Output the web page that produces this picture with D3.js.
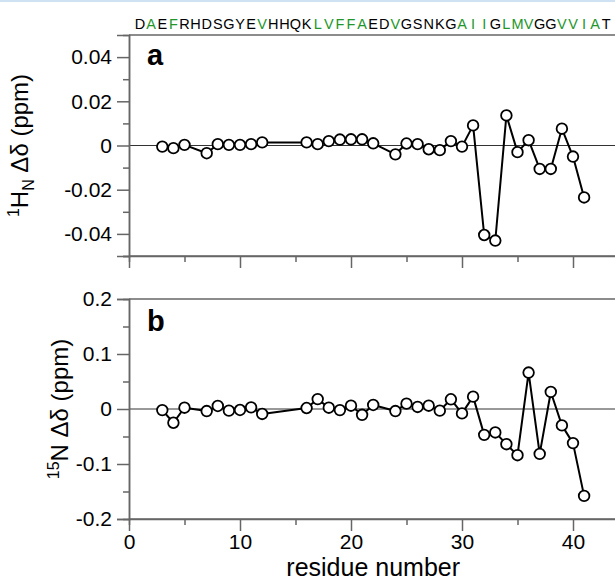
<!DOCTYPE html>
<html>
<head>
<meta charset="utf-8">
<script src="https://cdn.jsdelivr.net/npm/d3@7"></script>
<style>
  html, body { margin: 0; padding: 0; background: #fff; }
  svg { display: block; font-family: "Liberation Sans", Arial, Helvetica, sans-serif; }
</style>
</head>
<body>
<svg id="chart" width="615" height="580"></svg>
<script>
// residue numbers that have a measurement
const residues = [3, 4, 5, 7, 8, 9, 10, 11, 12, 16, 17, 18, 19, 20, 21, 22, 24, 25, 26, 27, 28, 29, 30,
    31, 32, 33, 34, 35, 36, 37, 38, 39, 40, 41];
// 1H_N chemical shift difference (ppm)
const dH = [-0.0005, -0.0012, 0.0003, -0.0035, 0.0006, 0.0003, 0.0003, 0.0006, 0.0014,
    0.0014, 0.0006, 0.002, 0.0027, 0.0028, 0.0028, 0.001,
    -0.004, 0.0009, 0.0006, -0.0017, -0.0021, 0.002, -0.0005,
    0.0091, -0.0405, -0.043, 0.0136, -0.003, 0.0024, -0.0106, -0.0106, 0.0076, -0.005, -0.0235];
// 15N chemical shift difference (ppm)
const dN = [-0.002, -0.025, 0.0024, -0.0037, 0.0055, -0.003, -0.0018, 0.003, -0.009,
    0.0018, 0.018, 0.0024, -0.002, 0.006, -0.0105, 0.0073,
    -0.0037, 0.0097, 0.0037, 0.006, -0.003, 0.0177, -0.008,
    0.0225, -0.047, -0.0426, -0.064, -0.084, 0.0663, -0.0816, 0.031, -0.0298, -0.062, -0.158];

const sequence = "DAEFRHDSGYEVHHQKLVFFAEDVGSNKGAIIGLMVGGVVIAT".split("");
// positions (1-based) printed in green
const hydrophobic = [2, 4, 12, 17, 18, 19, 20, 21, 24, 30, 31, 32, 34, 35, 36, 39, 40, 41, 42];

const xTicks = [0, 10, 20, 30, 40];
const xMinor = [5, 15, 25, 35];
const hTicks = [-0.04, -0.02, 0, 0.02, 0.04];
const hMinor = [-0.05, -0.03, -0.01, 0.01, 0.03];
const nTicks = [-0.2, -0.1, 0, 0.1, 0.2];
const nMinor = [-0.15, -0.05, 0.05, 0.15];

const svg = d3.select("#chart");
const W = 615;
const axisColor = "#666";

const x = d3.scaleLinear().domain([0, 44]).range([129, 617.4]);

svg.append("rect").attr("x", 0).attr("y", 0).attr("width", W).attr("height", 2).attr("fill", "#cfe2f3");

// sequence along the top, one letter per residue position
svg.append("g").selectAll("text")
    .data(sequence)
    .join("text")
    .attr("x", (d, i) => x(i + 1))
    .attr("y", 29)
    .attr("text-anchor", "middle")
    .attr("font-size", 14.5)
    .attr("fill", (d, i) => hydrophobic.includes(i + 1) ? "#22962a" : "#000")
    .text(d => d);

function fmt(v) { return v === 0 ? "0" : String(v); }

function panel(opt) {
    const y = d3.scaleLinear().domain(opt.domain).range([opt.bottom, opt.top]);
    const g = svg.append("g");

    // frame top line
    g.append("line").attr("x1", x(0)).attr("x2", W).attr("y1", opt.top).attr("y2", opt.top)
        .attr("stroke", axisColor).attr("stroke-width", 1.5);
    // zero line
    g.append("line").attr("x1", x(0)).attr("x2", W).attr("y1", y(0)).attr("y2", y(0))
        .attr("stroke", "#333").attr("stroke-width", 1);

    g.append("g").attr("transform", `translate(${x(0)},0)`)
        .call(d3.axisLeft(y).tickValues(opt.ticks).tickSize(12).tickPadding(5).tickFormat(fmt));
    g.append("g").attr("transform", `translate(${x(0)},0)`)
        .call(d3.axisLeft(y).tickValues(opt.minor).tickSize(6).tickFormat(""));

    const xAx = g.append("g").attr("transform", `translate(0,${opt.bottom})`)
        .call(d3.axisBottom(x).tickValues(xTicks).tickSize(12).tickPadding(3)
            .tickFormat(opt.xLabels ? d3.format("d") : ""));
    g.append("g").attr("transform", `translate(0,${opt.bottom})`)
        .call(d3.axisBottom(x).tickValues(xMinor).tickSize(6).tickFormat(""));

    g.selectAll(".domain").attr("stroke", axisColor).attr("stroke-width", 1.5);
    g.selectAll(".tick line").attr("stroke", axisColor).attr("stroke-width", 1.5);
    xAx.select(".domain").attr("d", `M${x(0)},0H${W}`);
    g.selectAll(".tick text").attr("font-size", 21).attr("fill", "#000")
        .attr("font-family", "Liberation Sans, Arial, sans-serif");

    const pts = residues.map((r, i) => [r, opt.values[i]]);
    g.append("path")
        .datum(pts)
        .attr("fill", "none")
        .attr("stroke", "#000")
        .attr("stroke-width", 2)
        .attr("stroke-linejoin", "round")
        .attr("d", d3.line().x(d => x(d[0])).y(d => y(d[1])));
    g.selectAll("circle")
        .data(pts)
        .join("circle")
        .attr("cx", d => x(d[0]))
        .attr("cy", d => y(d[1]))
        .attr("r", 5.3)
        .attr("fill", "#fff")
        .attr("stroke", "#000")
        .attr("stroke-width", 1.8);

    g.append("text").attr("x", 147).attr("y", opt.top + opt.letterDy)
        .attr("font-size", 29).attr("font-weight", "bold").text(opt.letter);

    const t = g.append("text")
        .attr("transform", `translate(${opt.titleX},${(opt.top + opt.bottom) / 2}) rotate(-90)`)
        .attr("text-anchor", "middle")
        .attr("font-size", opt.titleSize);
    opt.title(t);
    return y;
}

panel({
    top: 35, bottom: 256, domain: [-0.05, 0.05],
    ticks: hTicks, minor: hMinor, values: dH, xLabels: false,
    letter: "a", letterDy: 30, titleX: 28, titleSize: 24,
    title: t => {
        t.append("tspan").attr("font-size", 16).attr("dy", -9).text("1");
        t.append("tspan").attr("dy", 9).text("H");
        t.append("tspan").attr("font-size", 16).attr("dy", 6).text("N");
        t.append("tspan").attr("dy", -6).text(" Δδ (ppm)");
    }
});

panel({
    top: 299, bottom: 519, domain: [-0.2, 0.2],
    ticks: nTicks, minor: nMinor, values: dN, xLabels: true,
    letter: "b", letterDy: 32, titleX: 68, titleSize: 24,
    title: t => {
        t.append("tspan").attr("font-size", 16).attr("dy", -9).text("15");
        t.append("tspan").attr("dy", 9).text("N Δδ (ppm)");
    }
});

svg.append("text")
    .attr("x", x(22))
    .attr("y", 576)
    .attr("text-anchor", "middle")
    .attr("font-size", 25)
    .text("residue number");
</script>
</body>
</html>
